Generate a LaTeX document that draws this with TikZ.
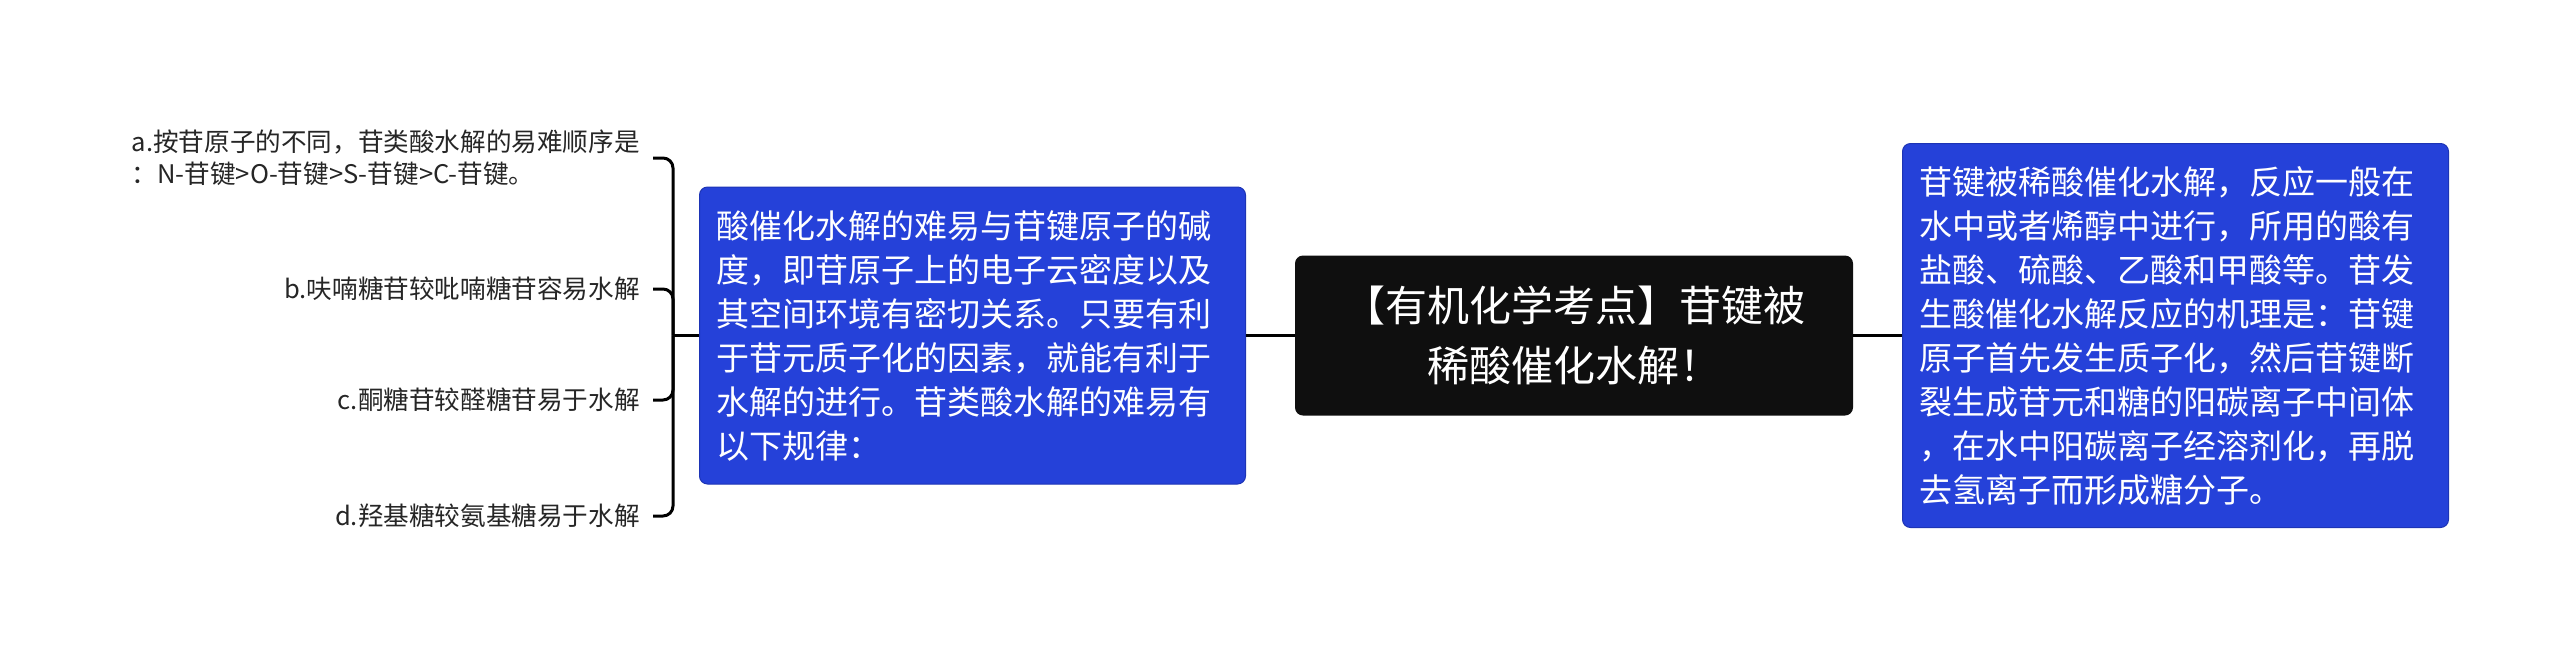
\documentclass[tikz,border=0pt]{standalone}
\usepackage{fontspec}
\setmainfont{Noto Sans CJK SC}
\definecolor{topicblue}{HTML}{2541D9}
\definecolor{topicedge}{HTML}{1D34B5}
\definecolor{rootblack}{HTML}{0F0F0F}
\definecolor{leaftext}{HTML}{262626}
\begin{document}
\begin{tikzpicture}[x=0.5pt, y=-0.5pt,
    link/.style={line width=1.5pt, black},
    rootbox/.style={rectangle, rounded corners=4pt, fill=rootblack, text=white, align=center, font=\fontsize{21}{30}\selectfont},
    bluebox/.style={rectangle, rounded corners=4pt, fill=topicblue, draw=topicedge, line width=0.5pt, text=white, align=left, text width=256pt, inner xsep=8.5pt, font=\fontsize{16.5}{22}\selectfont},
    leaf/.style={anchor=east, align=left, inner xsep=6.5pt, inner ysep=0pt, text=leaftext, font=\fontsize{12.8}{16}\selectfont}]

    \useasboundingbox (0,0) rectangle (2560,655);

    %centre topic:
    \node[rootbox, minimum width=279pt, minimum height=80pt] (root) at (1574,335.5) {【有机化学考点】苷键被\\稀酸催化水解！};

    %blue boxes:
    \node[bluebox, minimum height=148.5pt] (lbox) at (972.5,335.5) {酸催化水解的难易与苷键原子的碱\\度，即苷原子上的电子云密度以及\\其空间环境有密切关系。只要有利\\于苷元质子化的因素，就能有利于\\水解的进行。苷类酸水解的难易有\\以下规律：};
    \node[bluebox, minimum height=192pt] (rbox) at (2175.5,335.5) {苷键被稀酸催化水解，反应一般在\\水中或者烯醇中进行，所用的酸有\\盐酸、硫酸、乙酸和甲酸等。苷发\\生酸催化水解反应的机理是：苷键\\原子首先发生质子化，然后苷键断\\裂生成苷元和糖的阳碳离子中间体\\，在水中阳碳离子经溶剂化，再脱\\去氢离子而形成糖分子。};

    %rules:
    \node[leaf] (la) at (653,158) {a.按苷原子的不同，苷类酸水解的易难顺序是\\：N-苷键>O-苷键>S-苷键>C-苷键。};
    \node[leaf] (lb) at (653,289) {b.呋喃糖苷较吡喃糖苷容易水解};
    \node[leaf] (lc) at (653,400) {c.酮糖苷较醛糖苷易于水解};
    \node[leaf] (ld) at (653,516) {d.羟基糖较氨基糖易于水解};

    %connectors:
    \draw[link] (root.west) -- (lbox.east);
    \draw[link] (root.east) -- (rbox.west);
    \coordinate (fork) at (673,335.5);
    \draw[link] (lbox.west) -- (fork);
    \foreach \leafname in {la,lb,lc,ld}
        \draw[link, rounded corners=5pt] (fork) |- (\leafname.east);

\end{tikzpicture}
\end{document}
